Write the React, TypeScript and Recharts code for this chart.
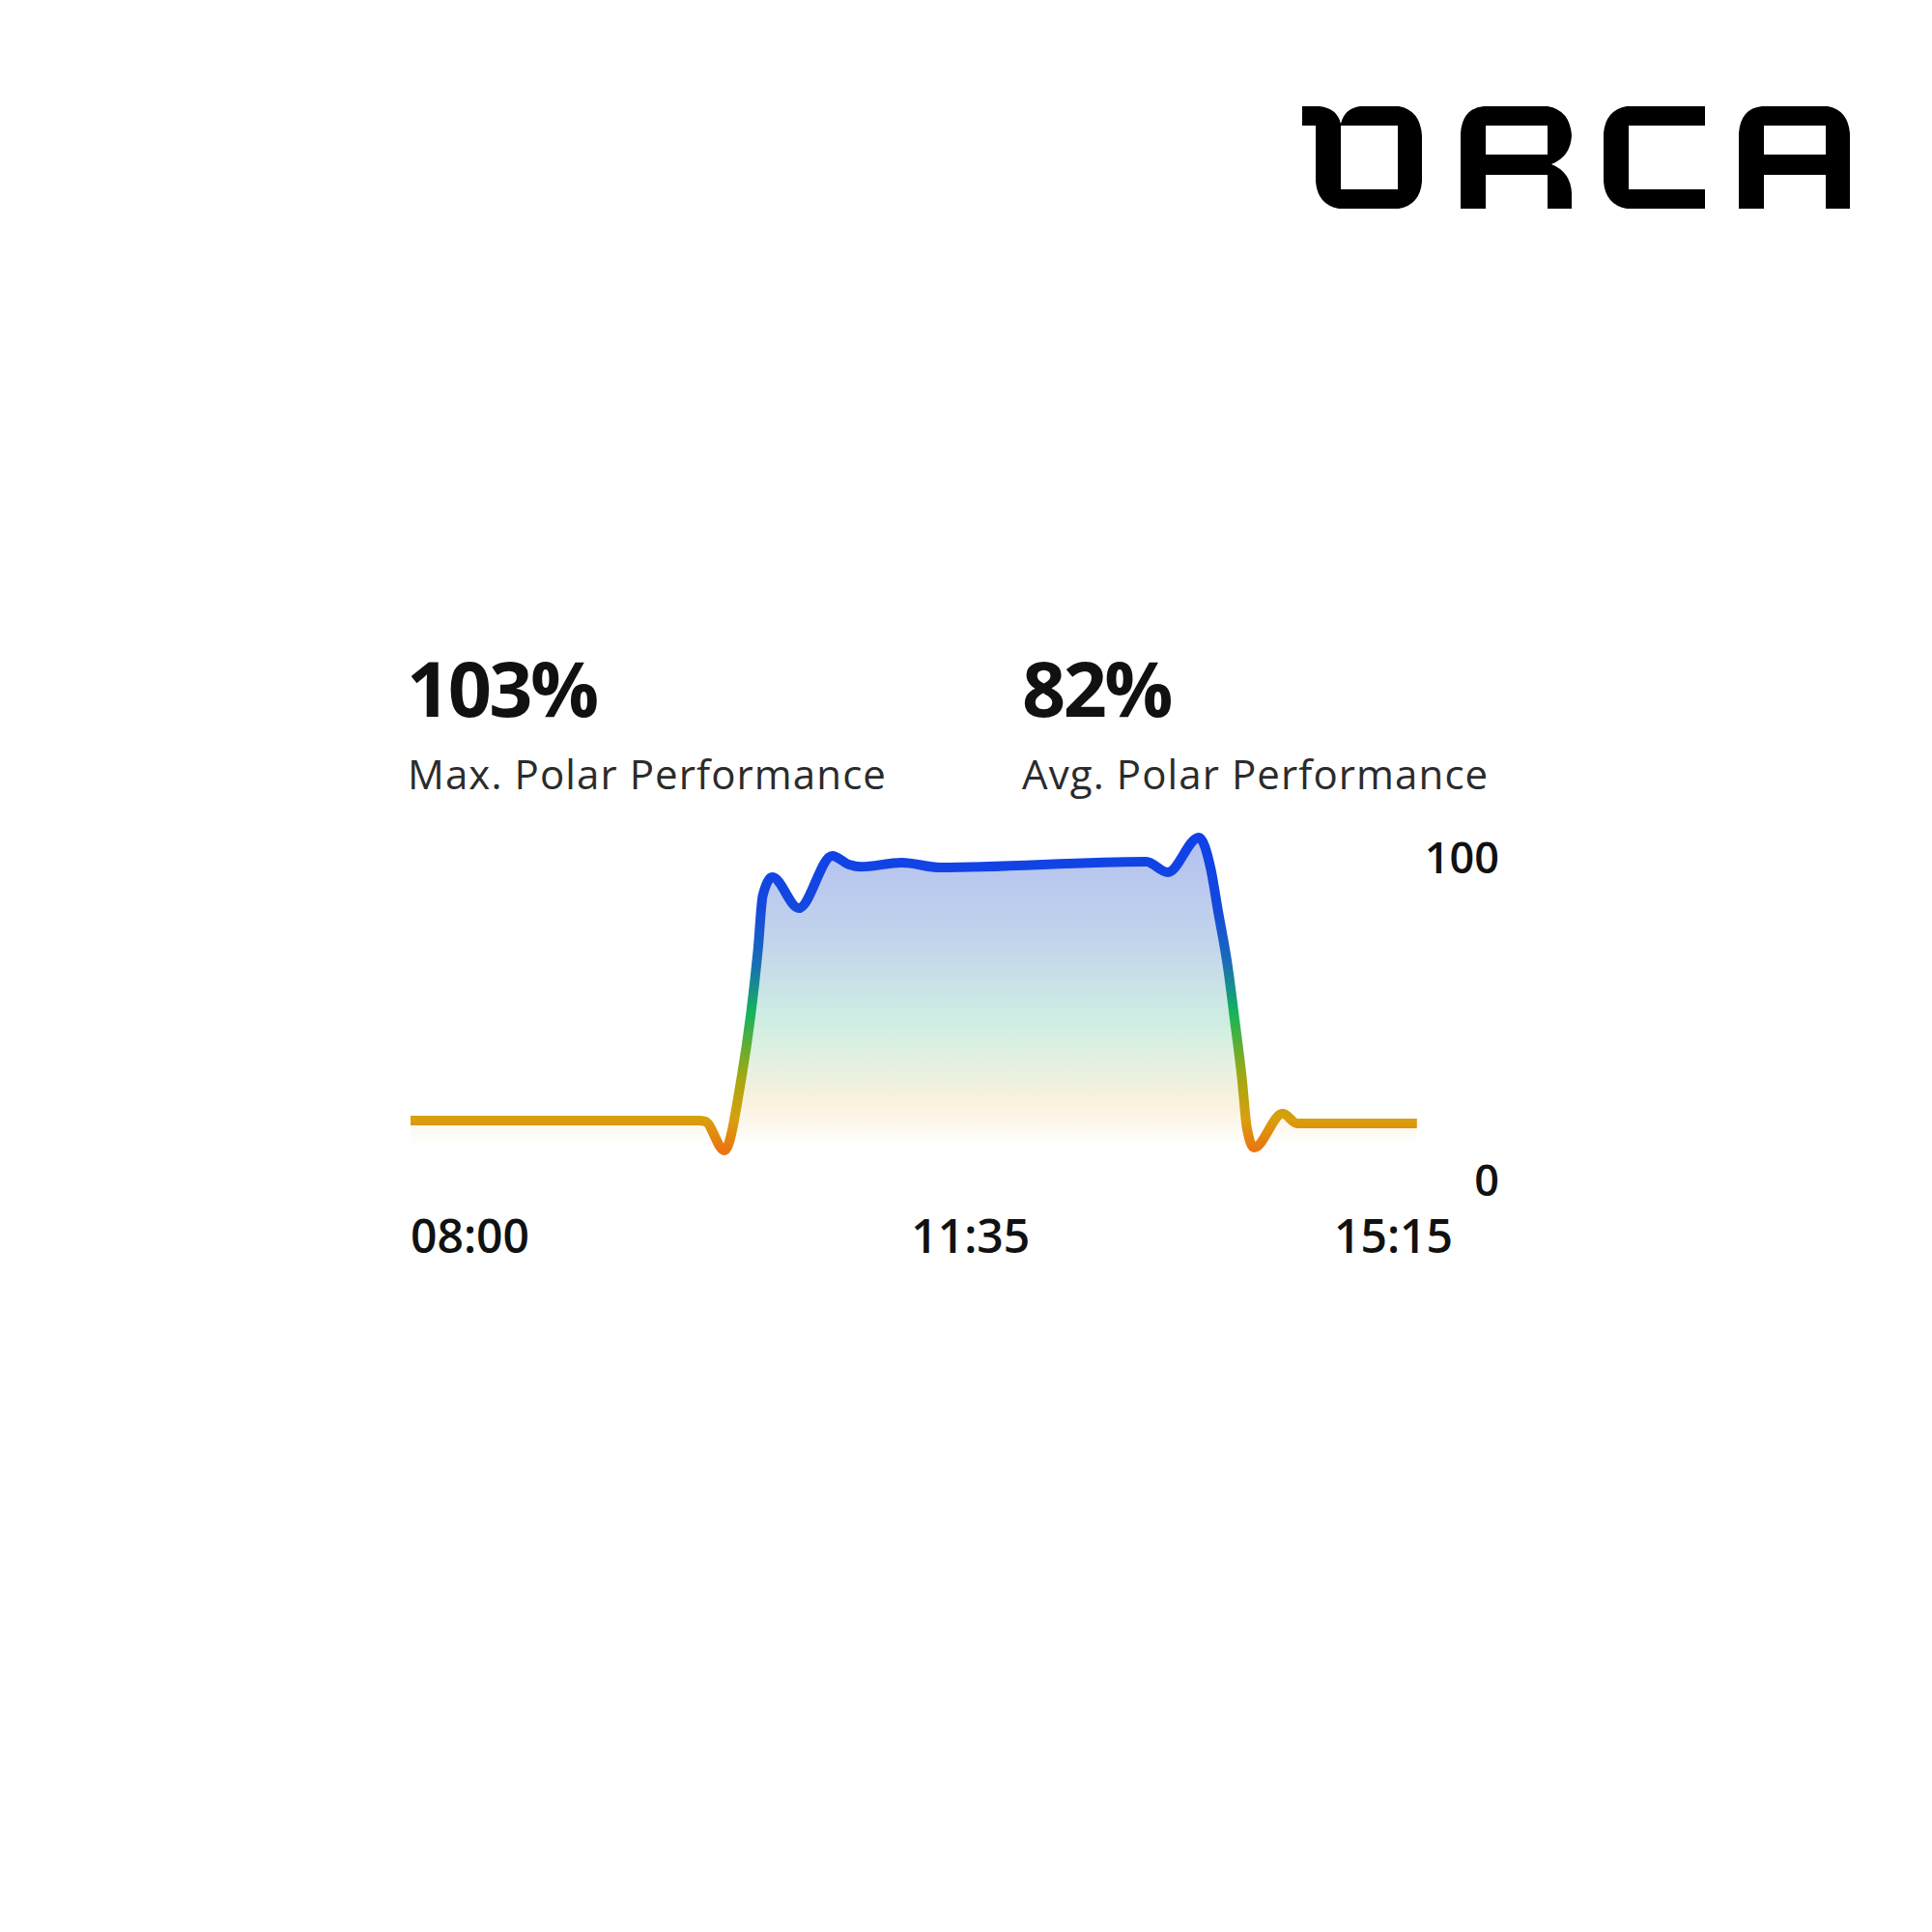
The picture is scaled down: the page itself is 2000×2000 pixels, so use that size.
import React from 'react';
import { ComposedChart, Area, XAxis, YAxis } from 'recharts';

// minutes since midnight (08:00 = 480)
const times = [480, 540, 600, 603, 611, 618, 622, 625, 627, 631, 642, 656, 663, 668, 685, 701, 787, 796, 809, 814, 817, 821, 824, 827, 829, 832, 844, 850, 900];
// polar performance in %
const performance = [18.6, 18.6, 18.6, 18.3, 9.3, 31.4, 51.5, 71.6, 88.3, 94, 84.4, 100.6, 97.9, 97.2, 98.5, 97.0, 98.8, 95.5, 106.3, 96.4, 83.5, 66.5, 49.4, 31.4, 16.5, 10.2, 20.7, 17.7, 17.7];

const xTicks = [480, 695, 915];
const xTickLabels = ['08:00', '11:35', '15:15'];
const yTicks = [0, 100];

const stats = [
  { value: '103%', label: 'Max. Polar Performance' },
  { value: '82%', label: 'Avg. Polar Performance' },
];

const data = times.map((t, i) => ({ t, v: performance[i] }));

const FONT = '"Open Sans", Roboto, sans-serif';

const TimeTick = (props: any) => {
  const { x, y, index } = props;
  const last = index === xTicks.length - 1;
  return (
    <text
      x={x}
      y={y}
      dy={75}
      dx={index === 1 ? -15 : 0}
      textAnchor={last ? 'end' : 'start'}
      fontFamily={FONT}
      fontSize={48}
      fontWeight={600}
      fill="#111"
    >
      {xTickLabels[index]}
    </text>
  );
};

const ValueTick = (props: any) => {
  const { x, y, payload } = props;
  return (
    <text x={x + 48} y={y} dy={16} textAnchor="end" fontFamily={FONT} fontSize={45} fontWeight={600} fill="#111">
      {payload.value}
    </text>
  );
};

const Logo = () => (
  <svg width={2000} height={300} style={{ position: 'absolute', left: 0, top: 0 }} role="img" aria-label="ORCA">
    <path
      fillRule="evenodd"
      fill="#000"
      d="M1348,110 L1366,110 Q1384,112 1388,128 Q1392,112 1408,110 L1448,110 Q1470,114 1472,140 L1472,188 Q1470,212 1448,216 L1386,216 Q1364,212 1362,188 L1362,130 L1348,130 Z M1388,130 L1447,130 L1447,196 L1388,196 Z"
    />
    <path
      fillRule="evenodd"
      fill="#000"
      d="M1512,216 L1512,138 Q1514,112 1536,110 L1602,110 Q1625,114 1627,140 Q1626,162 1606,170 Q1626,178 1627,200 L1627,216 L1602,216 L1602,181 L1538,181 L1538,216 Z M1538,130 L1602,130 L1602,160 L1538,160 Z"
    />
    <path
      fill="#000"
      d="M1765,110 L1684,110 Q1662,114 1660,138 L1660,188 Q1662,212 1684,216 L1765,216 L1765,196 L1686,196 L1686,130 L1765,130 Z"
    />
    <path
      fillRule="evenodd"
      fill="#000"
      d="M1800,216 L1800,138 Q1802,112 1824,110 L1892,110 Q1913,114 1915,138 L1915,216 L1890,216 L1890,181 L1826,181 L1826,216 Z M1826,130 L1890,130 L1890,160 L1826,160 Z"
    />
  </svg>
);

export default function App() {
  return (
    <div style={{ position: 'absolute', left: 0, top: 0, width: 2000, height: 2000, background: '#fff', fontFamily: FONT }}>
      <Logo />
      <svg width={2000} height={900} style={{ position: 'absolute', left: 0, top: 0 }}>
        {stats.map((s, i) => (
          <g key={s.label}>
            <text x={421 + i * 637} y={742} fontFamily={FONT} fontSize={79} fontWeight={700} fill="#111" letterSpacing={-2.5}>
              {s.value}
            </text>
            <text x={422 + i * 636} y={817} fontFamily={FONT} fontSize={42} fill="#2b2b2b" letterSpacing={1.1}>
              {s.label}
            </text>
          </g>
        ))}
      </svg>
      <div style={{ position: 'absolute', left: 400, top: 800 }}>
        <ComposedChart width={1200} height={560} data={data} margin={{ top: 54.6, right: 0, left: 25, bottom: 0 }}>
          <defs>
            <linearGradient id="lineGrad" x1="0" y1="0" x2="0" y2="1">
              <stop offset="0" stopColor="#1040E8" />
              <stop offset="0.22" stopColor="#1448DE" />
              <stop offset="0.4" stopColor="#1A6CB8" />
              <stop offset="0.56" stopColor="#14B45A" />
              <stop offset="0.76" stopColor="#A0A814" />
              <stop offset="0.9" stopColor="#D99F0C" />
              <stop offset="1" stopColor="#EC7410" />
            </linearGradient>
            <linearGradient id="areaGrad" x1="0" y1="0" x2="0" y2="1">
              <stop offset="0" stopColor="#B4C0F0" />
              <stop offset="0.3" stopColor="#C2D4EC" />
              <stop offset="0.55" stopColor="#D0EFE2" />
              <stop offset="0.78" stopColor="#FBF2DE" />
              <stop offset="0.9" stopColor="#FFFFFF" />
              <stop offset="1" stopColor="#FFFFFF" />
            </linearGradient>
          </defs>
          <XAxis
            dataKey="t"
            type="number"
            domain={[480, 915]}
            ticks={xTicks}
            interval={0}
            axisLine={false}
            tickLine={false}
            tickSize={0}
            tickMargin={0}
            height={138}
            tick={<TimeTick />}
          />
          <YAxis
            orientation="right"
            domain={[0, 110]}
            ticks={yTicks}
            interval={0}
            axisLine={false}
            tickLine={false}
            tickSize={0}
            tickMargin={0}
            width={96}
            tick={<ValueTick />}
          />
          <Area
            type="monotone"
            dataKey="v"
            stroke="url(#lineGrad)"
            strokeWidth={10}
            strokeLinejoin="round"
            fill="url(#areaGrad)"
            fillOpacity={1}
            dot={false}
            activeDot={false}
            isAnimationActive={false}
          />
        </ComposedChart>
      </div>
    </div>
  );
}
